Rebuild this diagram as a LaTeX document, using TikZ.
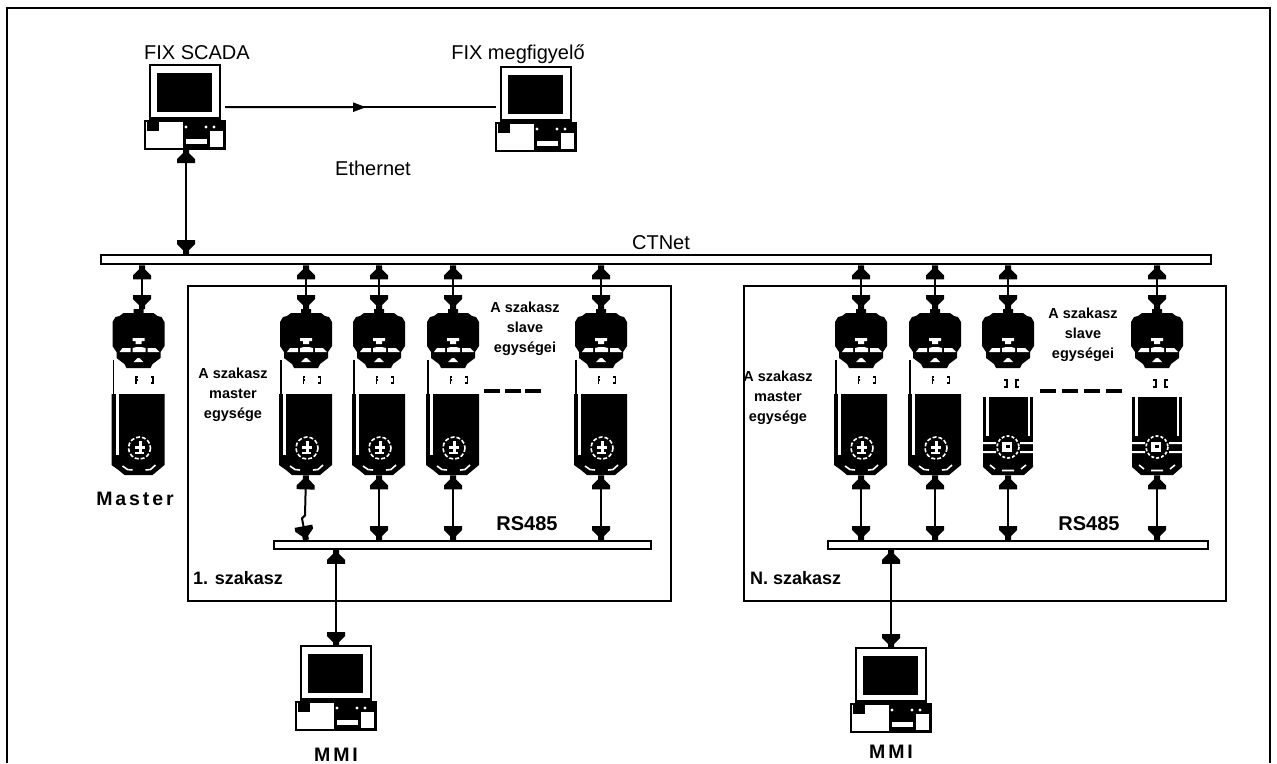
\documentclass[tikz,border=0pt]{standalone}
\usepackage{fontspec}
\setmainfont{Liberation Sans}
\usetikzlibrary{arrows.meta,calc}
\pgfdeclarearrow{name=Blk,
 setup code={\pgfarrowssettipend{0pt}\pgfarrowssetbackend{-14pt}\pgfarrowssetlineend{-8pt}\pgfarrowssetvisualbackend{-14pt}},
 drawing code={\pgfpathmoveto{\pgfpoint{0pt}{3pt}}\pgfpathlineto{\pgfpoint{-4pt}{3pt}}\pgfpathlineto{\pgfpoint{-10pt}{9pt}}\pgfpathlineto{\pgfpoint{-14pt}{9pt}}\pgfpathlineto{\pgfpoint{-14pt}{-9pt}}\pgfpathlineto{\pgfpoint{-10pt}{-9pt}}\pgfpathlineto{\pgfpoint{-4pt}{-3pt}}\pgfpathlineto{\pgfpoint{0pt}{-3pt}}\pgfpathclose\pgfusepathqfill}}
\tikzset{
 frameline/.style={draw=black,line width=2.6pt},
 bus/.style={draw=black,fill=white,line width=2.4pt,inner sep=0pt},
 conn/.style={draw=black,line width=2pt,{Blk}-{Blk}},
 norm/.style={inner sep=0pt,font=\fontsize{20}{24}\selectfont},
 bsmall/.style={inner sep=0pt,align=center,font=\fontsize{14.5}{20}\selectfont\bfseries},
 blarge/.style={inner sep=0pt,font=\fontsize{20}{24}\selectfont\bfseries},
 bsec/.style={inner sep=0pt,anchor=west,font=\fontsize{18}{22}\selectfont\bfseries},
 bspaced/.style={inner sep=0pt,font=\fontsize{19.5}{24}\selectfont\bfseries\addfontfeature{LetterSpace=15}},
 ghost/.style={inner sep=0pt,minimum width=52pt},
}
% drive: name, centre x, bottom y, variant (0 = plain, 1 = with striped body)
\newcommand{\drv}[3]{%
 \begin{scope}[shift={(#2,312)}]
  \node[ghost,minimum height=163pt,anchor=north] (#1) at (0,0) {};
  \fill (-5,-3)--(5,-3)--(5,1)--(15,1)--(19,4)--(23,5)--(26,10)--(26,34)--(22,40)--(22,46)--(14,52)--(12,56)--(-12,56)--(-14,52)--(-22,46)--(-22,40)--(-26,34)--(-26,10)--(-23,5)--(-19,4)--(-15,1)--(-5,1)--cycle;
  \fill[white] (-6,26)--(6,26)--(6,29)--(3,29)--(3,32)--(-3,32)--(-3,29)--(-6,29)--cycle;
  \fill[white] (-19,40)--(-16,36)--(-8,36)--(-8,40)--cycle;
  \fill[white] (-6,40)--(-6,36)--(-2,35)--(3,35)--(7,36)--(7,40)--cycle;
  \fill[white] (9,40)--(9,36)--(17,36)--(21,40)--cycle;
  \fill[white] (-5,50)--(-1,46)--(1,46)--(5,50)--cycle;
  \ifnum#3=0
   \fill (-26,48) rectangle (-24.5,82);
   \draw[line width=1.8pt] (-1,68)--(-2.5,68)--(-2.5,71.5) (-2.5,68)--(-2.5,65)--(-1,65);
   \draw[line width=1.8pt] (12,65)--(14.5,65)--(14.5,71)--(12,71);
   \fill (-27,82)--(26,82)--(26,153)--(20,158)--(14,163)--(-14,163)--(-20,158)--(-27,153)--cycle;
   \fill[white] (-23,82) rectangle (-20,143);
   \begin{scope}[shift={(1,136)}]
    \draw[white,line width=1.6pt,dash pattern=on 4pt off 2pt] (0,0) circle (11);
    \fill[white] (-5,-2) rectangle (5,1);
    \fill[white] (-1,-7) rectangle (2,6);
    \fill[white] (-5,4) rectangle (4,6);
   \end{scope}
   \draw[white,line width=1.6pt] (-16,154)--(-11,157.5)--(-6,158) (7,158)--(12,157.5)--(17,153);
  \else
   \draw[line width=1.8pt] (-4,68)--(-1,68)--(-1,75)--(-4,75);
   \draw[line width=1.8pt] (11,68)--(8,68)--(8,75)--(11,75);
   \fill (-25,85) rectangle (25,153);
   \fill (-25,153)--(25,153)--(25,155)--(16,163)--(-16,163)--(-25,155)--cycle;
   \fill[white] (-22,85) rectangle (-19.5,124);
   \fill[white] (19.5,85) rectangle (22,124);
   \fill[white] (-25,130) rectangle (-12,132) (12,130) rectangle (25,132);
   \fill[white] (-25,139) rectangle (-12,141) (12,139) rectangle (25,141);
   \begin{scope}[shift={(0,135)}]
    \draw[white,line width=1.7pt,dash pattern=on 3pt off 2pt] (0,0) circle (11);
    \fill[white] (-6,-5) rectangle (4,5);
    \fill (-2,-2) rectangle (2,1);
   \end{scope}
   \draw[white,line width=1.6pt] (-18,153)--(-13,157) (-6,158.5)--(6,158.5) (13,157)--(18,153);
  \fi
 \end{scope}}
% computer: name, left of monitor, top of monitor
\newcommand{\pcbox}[3]{%
 \begin{scope}[shift={(#2,#3)}]
  \node[inner sep=0pt,minimum width=80pt,minimum height=84pt,anchor=north west] (#1) at (-5,0) {};
  \draw[line width=2.4pt] (0,0) rectangle (70,55);
  \fill (7,8) rectangle (62,47);
  \fill (-1,52) rectangle (71,56);
  \fill[white] (8,50) rectangle (62,52);
  \draw[line width=2.4pt,fill=white] (-5,56) rectangle (75,84);
  \fill (33,56) rectangle (75,84);
  \fill[white] (36,74) rectangle (57,79);
  \fill[white] (60,66) rectangle (73,82);
  \fill (-3,56) rectangle (9,66);
  \fill[white] (36,62) circle (1.6) (56,62) circle (1.6) (64,62) circle (1.6);
 \end{scope}}
\begin{document}
\begin{tikzpicture}[x=1pt,y=-1pt]
\useasboundingbox (0,0) rectangle (1277,763);
\fill[white] (0,0) rectangle (1277,763);
\coordinate (fa) at (7,763); \coordinate (fb) at (7,8); \coordinate (fc) at (1270,8); \coordinate (fd) at (1270,763);
\draw[frameline] (fa)--(fb)--(fc)--(fd);

\node[norm] (lscada) at (197,53) {FIX SCADA};
\node[norm] (lmon) at (518,54) {FIX megfigyelő};
\node[norm] (lether) at (373,168) {Ethernet};
\node[norm] (lct) at (661,243) {CTNet};

\node[bus,minimum width=1110pt,minimum height=9pt,anchor=north west] (ct) at (100,254) {};
\node[draw=black,line width=2.4pt,minimum width=483pt,minimum height=315pt,anchor=north west,inner sep=0pt] (s1) at (187,285) {};
\node[draw=black,line width=2.4pt,minimum width=482pt,minimum height=315pt,anchor=north west,inner sep=0pt] (s2) at (743,285) {};
\node[bus,minimum width=377pt,minimum height=7.5pt,anchor=north west] (r1) at (273,540) {};
\node[bus,minimum width=380pt,minimum height=7.5pt,anchor=north west] (r2) at (827,540) {};

\pcbox{scada}{150}{65}
\pcbox{mon}{501}{67}
\pcbox{mmia}{301}{646}
\pcbox{mmib}{856}{648}

\draw[line width=2pt] (scada.east) -- (scada.east -| mon.west);
\draw[line width=2pt,-{Triangle[width=9pt,length=13pt]}] (scada.east) -- ($(scada.east)!0.52!(scada.east -| mon.west)$);
\coordinate (sb) at (186,149);
\draw[conn] (sb) -- (sb |- ct.north);

\drv{m}{138.5}{0}
\coordinate (mt) at (142,309);
\draw[conn] (mt |- ct.south) -- (mt);

\drv{a1}{306}{0}
\drv{a2}{379}{0}
\drv{a3}{453}{0}
\drv{a4}{601}{0}
\drv{b1}{861}{0}
\drv{b2}{935}{0}
\drv{b3}{1008}{1}
\drv{b4}{1157}{1}

\foreach \n in {a1,a2,a3,a4,b1,b2,b3,b4}{
 \draw[conn] (\n.north |- ct.south) -- ($(\n.north)+(0,-3)$);
}
\draw[conn] (a1.south) -- ++(-1,40) -- ++(-3,3) -- (a1.south |- r1.north);
\foreach \n in {a2,a3,a4}{ \draw[conn] (\n.south) -- (\n.south |- r1.north); }
\foreach \n in {b1,b2,b3,b4}{ \draw[conn] (\n.south) -- (\n.south |- r2.north); }

\coordinate (ra) at (336,548);
\draw[conn] (ra |- r1.south) -- (ra |- mmia.north);
\coordinate (rb) at (891,548);
\draw[conn] (rb |- r2.south) -- (rb |- mmib.north);

\node[bspaced] (lm) at (135,499) {Master};
\node[bspaced] (lma) at (336,755) {MMI};
\node[bspaced] (lmb) at (891,752) {MMI};
\node[bsmall] (ma) at (233,395) {A szakasz\\master\\egysége};
\node[bsmall] (sa) at (525,329) {A szakasz\\slave\\egységei};
\node[bsmall] (mb) at (778,398) {A szakasz\\master\\egysége};
\node[bsmall] (sb2) at (1083,335) {A szakasz\\slave\\egységei};
\node[blarge] (ra1) at (527,524) {RS485};
\node[blarge] (ra2) at (1089,524) {RS485};
\node[bsec] (s1l) at (193,578) {1. szakasz};
\node[bsec] (s2l) at (750,578) {N. szakasz};

\draw[line width=3.5pt,dash pattern=on 16pt off 4.5pt] (484,391) -- (542,391);
\draw[line width=3.5pt,dash pattern=on 16pt off 6pt] (1040,391) -- (1125,391);
\end{tikzpicture}
\end{document}
